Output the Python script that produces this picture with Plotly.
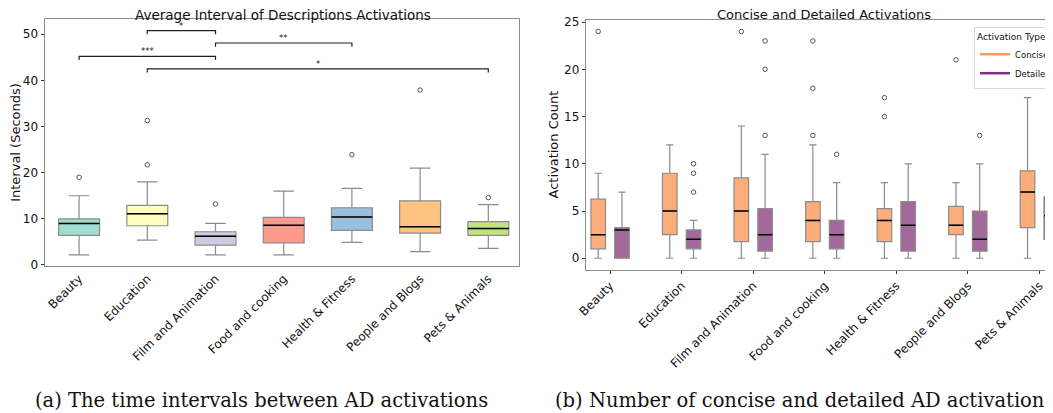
import plotly.graph_objects as go

# ---------------- data ----------------
categories = ["Beauty", "Education", "Film and Animation", "Food and cooking",
              "Health & Fitness", "People and Blogs", "Pets & Animals"]

# (a) interval boxes
int_low = [2.2, 5.4, 2.2, 2.2, 4.9, 2.9, 3.6]
int_q1 = [6.4, 8.5, 4.3, 4.8, 7.5, 6.9, 6.4]
int_med = [9.0, 11.1, 6.2, 8.6, 10.4, 8.3, 7.9]
int_q3 = [10.0, 12.9, 7.2, 10.3, 12.4, 13.9, 9.4]
int_high = [15.0, 18.0, 9.0, 16.0, 16.6, 21.0, 13.1]
int_outliers = [[19.0], [21.7, 31.3], [13.2], [], [23.9], [37.9], [14.6]]
int_colors = ["#a3dcd3", "#ffffbf", "#cdcae2", "#fc9a8e", "#99c1dd", "#fdc380", "#c1e481"]

# significance brackets: (from idx, to idx, height, label)
sig_from = [1, 2, 0, 1]
sig_to = [2, 4, 2, 6]
sig_y = [50.8, 48.1, 45.2, 42.5]
sig_label = ["*", "**", "***", "*"]

# (b) concise / detailed counts
con_low = [0, 0, 0, 0, 0, 0, 0]
con_q1 = [1.0, 2.5, 1.75, 1.75, 1.75, 2.5, 3.25]
con_med = [2.5, 5.0, 5.0, 4.0, 4.0, 3.5, 7.0]
con_q3 = [6.25, 9.0, 8.5, 6.0, 5.25, 5.5, 9.25]
con_high = [9, 12, 14, 12, 8, 8, 17]
con_outliers = [[24], [], [24], [13, 18, 23], [15, 17], [21], [19]]

det_low = [0, 0, 0, 0, 0, 0, 0]
det_q1 = [0.0, 1.0, 0.75, 1.0, 0.75, 0.75, 2.0]
det_med = [3.0, 2.0, 2.5, 2.5, 3.5, 2.0, 4.5]
det_q3 = [3.25, 3.0, 5.25, 4.0, 6.0, 5.0, 6.5]
det_high = [7, 4, 11, 8, 10, 10, 10]
det_outliers = [[], [7, 9, 10], [13, 20, 23], [11], [], [13], [18]]

series_names = ["Concise", "Detailed"]
series_fill = ["#fdad79", "#a4699b"]
series_line = ["#fd9a55", "#7f2f7c"]

# ---------------- styling ----------------
W, H = 1053, 413
PAGE_OFF = 8  # default body margin of the page


def px(sx):
    return (sx - PAGE_OFF) / W


def py(sy):
    return 1 - (sy - PAGE_OFF) / H


FONT = "DejaVu Sans"
EDGE = "#8c8c8c"
OUTLIER = "#555555"

fig = go.Figure()
xs = list(range(len(categories)))


def add_box(x, lo, q1, med, q3, hi, width, fill, xa, ya):
    fig.add_trace(go.Box(
        x=x, q1=q1, median=med, q3=q3, lowerfence=lo, upperfence=hi,
        width=width, whiskerwidth=0.5, fillcolor=fill,
        line=dict(color=EDGE, width=1.2), boxpoints=False,
        showlegend=False, hoverinfo="skip", xaxis=xa, yaxis=ya))
    fig.add_trace(go.Box(
        x=x, q1=med, median=med, q3=med, lowerfence=med, upperfence=med,
        width=width, whiskerwidth=0, fillcolor="rgba(0,0,0,0)",
        line=dict(color="black", width=1.5), boxpoints=False,
        showlegend=False, hoverinfo="skip", xaxis=xa, yaxis=ya))


# ---- left subplot ----
for i in xs:
    add_box([i], [int_low[i]], [int_q1[i]], [int_med[i]], [int_q3[i]], [int_high[i]],
            0.6, int_colors[i], "x", "y")
ox, oy = [], []
for i in xs:
    for v in int_outliers[i]:
        ox.append(i)
        oy.append(v)
fig.add_trace(go.Scatter(
    x=ox, y=oy, mode="markers",
    marker=dict(symbol="circle-open", size=4.5, color=OUTLIER, line=dict(width=1)),
    showlegend=False, hoverinfo="skip", xaxis="x", yaxis="y"))

# significance brackets
for a, b, h, lab in zip(sig_from, sig_to, sig_y, sig_label):
    fig.add_trace(go.Scatter(
        x=[a, a, b, b], y=[h - 0.8, h, h, h - 0.8], mode="lines",
        line=dict(color="#222222", width=1.2),
        showlegend=False, hoverinfo="skip", xaxis="x", yaxis="y"))
    fig.add_annotation(x=(a + b) / 2, y=h, xref="x", yref="y", text=lab,
                       showarrow=False, yanchor="bottom", yshift=-2,
                       font=dict(size=8.5, color="#222222", family=FONT))

# ---- right subplot ----
offsets = [-0.166, 0.166]
stats = [
    (con_low, con_q1, con_med, con_q3, con_high, con_outliers),
    (det_low, det_q1, det_med, det_q3, det_high, det_outliers),
]
for s, (lo, q1, med, q3, hi, outs) in enumerate(stats):
    pos = [i + offsets[s] for i in xs]
    add_box(pos, lo, q1, med, q3, hi, 0.204, series_fill[s], "x2", "y2")
    ox, oy = [], []
    for i in xs:
        for v in outs[i]:
            ox.append(pos[i])
            oy.append(v)
    fig.add_trace(go.Scatter(
        x=ox, y=oy, mode="markers",
        marker=dict(symbol="circle-open", size=4.5, color=OUTLIER, line=dict(width=1)),
        showlegend=False, hoverinfo="skip", xaxis="x2", yaxis="y2"))
    # legend entry (line)
    fig.add_trace(go.Scatter(
        x=[None], y=[None], mode="lines", name=series_names[s],
        line=dict(color=series_line[s], width=2.5), xaxis="x2", yaxis="y2"))

# ---------------- layout ----------------
axis_common = dict(showgrid=False, zeroline=False, showline=True, linecolor=EDGE,
                   linewidth=1, mirror=True, ticks="outside", ticklen=3.5,
                   tickcolor="#333", tickfont=dict(size=12, family=FONT, color="#111"))

# right x range: ticks at 610.1 px (first) with 71.55 px spacing
r_left, r_right = 586.3, W + PAGE_OFF
r_x0 = (r_left - 610.1) / 71.55
r_x1 = (r_right - 610.1) / 71.55

fig.update_layout(
    width=W, height=H,
    margin=dict(l=0, r=0, t=0, b=0, autoexpand=False),
    paper_bgcolor="white", plot_bgcolor="white",
    font=dict(family=FONT, color="#111"),
    boxmode="overlay",
    xaxis=dict(domain=[px(45), px(519)], range=[-0.5, 6.45],
               tickvals=xs, ticktext=categories, tickangle=-45,
               anchor="y", **{**axis_common, "ticks": ""}),
    yaxis=dict(domain=[py(266), py(19)], range=[-0.22, 53.3],
               tickvals=[0, 10, 20, 30, 40, 50], anchor="x",
               title=dict(text="Interval (Seconds)", font=dict(size=13, family=FONT), standoff=2),
               **axis_common),
    xaxis2=dict(domain=[px(r_left), 1.0], range=[r_x0, r_x1],
                tickvals=xs, ticktext=categories, tickangle=-45,
                anchor="y2", **axis_common),
    yaxis2=dict(domain=[py(269.5), py(19.7)], range=[-1.19, 25.25],
                tickvals=[0, 5, 10, 15, 20, 25], anchor="x2",
                title=dict(text="Activation Count", font=dict(size=13, family=FONT), standoff=2),
                **axis_common),
    legend=dict(x=px(974), y=py(27), xanchor="left", yanchor="top",
                bgcolor="white", bordercolor="#d8d8d8", borderwidth=1,
                font=dict(size=8.5, family=FONT),
                title=dict(text="Activation Type", font=dict(size=9, family=FONT)),
                tracegroupgap=0, itemwidth=30),
)

# subplot titles
fig.add_annotation(x=px(283), y=py(15), xref="paper", yref="paper",
                   xanchor="center", yanchor="middle",
                   text="Average Interval of Descriptions Activations", showarrow=False,
                   font=dict(size=13.5, family=FONT, color="#111"))
fig.add_annotation(x=px(824), y=py(15), xref="paper", yref="paper",
                   xanchor="center", yanchor="middle",
                   text="Concise and Detailed Activations", showarrow=False,
                   font=dict(size=13, family=FONT, color="#111"))

# captions
fig.add_annotation(x=px(33), y=py(400), xref="paper", yref="paper",
                   xanchor="left", yanchor="middle",
                   text="(a) The time intervals between AD activations", showarrow=False,
                   font=dict(size=19.5, family="DejaVu Serif", color="#111"))
fig.add_annotation(x=px(553), y=py(400), xref="paper", yref="paper",
                   xanchor="left", yanchor="middle",
                   text="(b) Number of concise and detailed AD activations", showarrow=False,
                   font=dict(size=19.5, family="DejaVu Serif", color="#111"))

fig.write_html("out.html")
